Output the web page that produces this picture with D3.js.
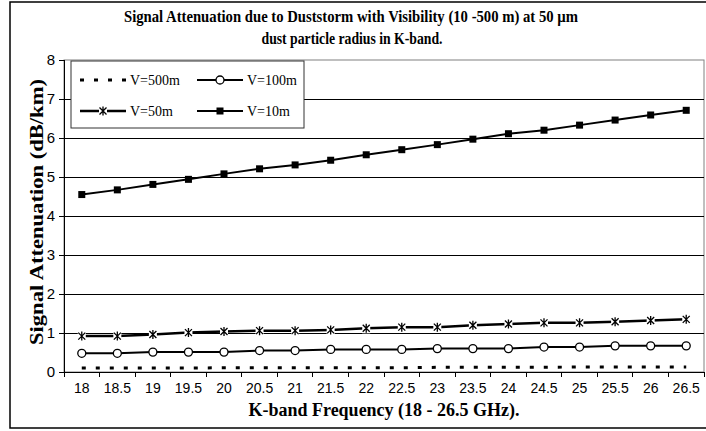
<!DOCTYPE html>
<html>
<head>
<meta charset="utf-8">
<script src="https://d3js.org/d3.v7.min.js"></script>
<style>
  body { margin: 0; background: #fff; }
  svg { display: block; }
</style>
</head>
<body>
<svg width="706" height="431"></svg>
<script>
  var freqs = ["18", "18.5", "19", "19.5", "20", "20.5", "21", "21.5", "22", "22.5", "23", "23.5", "24", "24.5", "25", "25.5", "26", "26.5"];
  var v500 = [0.10, 0.10, 0.10, 0.10, 0.11, 0.11, 0.11, 0.11, 0.11, 0.11, 0.12, 0.12, 0.12, 0.12, 0.13, 0.13, 0.13, 0.13];
  var v100 = [0.48, 0.48, 0.51, 0.51, 0.51, 0.55, 0.55, 0.58, 0.58, 0.58, 0.60, 0.60, 0.60, 0.64, 0.64, 0.67, 0.67, 0.67];
  var v50 = [0.92, 0.92, 0.96, 1.01, 1.04, 1.06, 1.06, 1.08, 1.12, 1.15, 1.15, 1.20, 1.23, 1.26, 1.26, 1.29, 1.32, 1.35];
  var v10 = [4.55, 4.67, 4.81, 4.94, 5.08, 5.21, 5.31, 5.43, 5.57, 5.70, 5.83, 5.97, 6.11, 6.20, 6.33, 6.46, 6.59, 6.71];
  var yTicks = [0, 1, 2, 3, 4, 5, 6, 7, 8];

  var svg = d3.select("svg");
  var plotL = 64, plotR = 704, plotT = 60, plotB = 372;

  // outer frame (right edge is cut off in the original)
  svg.append("rect")
    .attr("x", 10).attr("y", 2)
    .attr("width", 720).attr("height", 426)
    .style("fill", "none").style("stroke", "#000").style("stroke-width", 1.5);

  var x = d3.scaleBand().domain(freqs).range([plotL, plotR]);
  var y = d3.scaleLinear().domain([0, 8]).range([plotB, plotT]);
  var cx = function (d, i) { return x(freqs[i]) + x.bandwidth() / 2; };

  // plot border + grid
  svg.append("rect")
    .attr("x", plotL).attr("y", plotT)
    .attr("width", plotR - plotL).attr("height", plotB - plotT)
    .style("fill", "none").style("stroke", "#808080").style("stroke-width", 1);

  svg.append("g").selectAll("line")
    .data(yTicks.slice(1, -1))
    .enter().append("line")
    .attr("x1", plotL).attr("x2", plotR)
    .attr("y1", function (d) { return y(d); }).attr("y2", function (d) { return y(d); })
    .style("stroke", "#000").style("stroke-width", 1)
    .attr("shape-rendering", "crispEdges");

  // y axis
  var yAxis = svg.append("g").attr("transform", "translate(" + plotL + ",0)")
    .call(d3.axisLeft(y).tickValues(yTicks).tickSize(5).tickPadding(4).tickFormat(d3.format("d")));
  yAxis.selectAll("text").style("font-family", "Liberation Sans, Arial, sans-serif").style("font-size", "15px").style("fill", "#000");
  yAxis.selectAll("line").style("stroke", "#000");
  yAxis.select(".domain").remove();
  svg.append("line").attr("x1", plotL).attr("x2", plotL).attr("y1", plotT).attr("y2", plotB)
    .style("stroke", "#000").style("stroke-width", 1).attr("shape-rendering", "crispEdges");

  // x axis: labels at band centres, ticks at band edges
  var xAxis = svg.append("g").attr("transform", "translate(0," + plotB + ")")
    .call(d3.axisBottom(x).tickSize(0).tickPadding(11));
  xAxis.select(".domain").remove();
  xAxis.selectAll("text").style("font-family", "Liberation Sans, Arial, sans-serif").style("font-size", "14px").style("fill", "#000");
  var edges = freqs.map(function (f) { return x(f); }).concat([plotR]);
  svg.append("g").selectAll("line")
    .data(edges)
    .enter().append("line")
    .attr("x1", function (d) { return d; }).attr("x2", function (d) { return d; })
    .attr("y1", plotB).attr("y2", plotB + 5)
    .style("stroke", "#000").attr("shape-rendering", "crispEdges");
  svg.append("line").attr("x1", plotL).attr("x2", plotR).attr("y1", plotB).attr("y2", plotB)
    .style("stroke", "#000").style("stroke-width", 1).attr("shape-rendering", "crispEdges");

  // series
  var line = d3.line().x(cx).y(function (d) { return y(d); });
  var starPath = "M-3.5,-3.5L3.5,3.5M3.5,-3.5L-3.5,3.5M0,-4.5L0,4.5";

  var series = [
    { name: "V=500m", values: v500 },
    { name: "V=100m", values: v100 },
    { name: "V=50m", values: v50 },
    { name: "V=10m", values: v10 }
  ];
  var style = {
    "V=500m": { width: 3, dash: "4,10", marker: "none" },
    "V=100m": { width: 2, dash: null, marker: "circle" },
    "V=50m": { width: 2.5, dash: null, marker: "star" },
    "V=10m": { width: 2, dash: null, marker: "square" }
  };

  function drawMarker(sel, kind) {
    if (kind === "circle") {
      sel.append("circle").attr("r", 4).style("fill", "#fff").style("stroke", "#000").style("stroke-width", 1.3);
    } else if (kind === "square") {
      sel.append("rect").attr("x", -3.5).attr("y", -3.5).attr("width", 7).attr("height", 7).style("fill", "#000");
    } else if (kind === "star") {
      sel.append("rect").attr("x", -4).attr("y", -5).attr("width", 8).attr("height", 10).style("fill", "#fff");
      sel.append("path").attr("d", starPath).style("fill", "none").style("stroke", "#000").style("stroke-width", 1.3);
    }
  }

  series.forEach(function (s) {
    var st = style[s.name];
    svg.append("path")
      .datum(s.values)
      .attr("d", line)
      .style("fill", "none")
      .style("stroke", "#000")
      .style("stroke-width", st.width)
      .style("stroke-dasharray", st.dash);
    if (st.marker !== "none") {
      svg.append("g").selectAll("g")
        .data(s.values)
        .enter().append("g")
        .attr("transform", function (d, i) { return "translate(" + cx(d, i) + "," + y(d) + ")"; })
        .each(function () { drawMarker(d3.select(this), st.marker); });
    }
  });

  // legend
  var legend = svg.append("g");
  legend.append("rect")
    .attr("x", 71).attr("y", 61).attr("width", 233).attr("height", 67)
    .style("fill", "#fff").style("stroke", "#333").style("stroke-width", 1);
  var legPos = [[80, 80], [197, 80], [80, 111], [197, 111]];
  series.forEach(function (s, i) {
    var st = style[s.name];
    var g = legend.append("g").attr("transform", "translate(" + legPos[i][0] + "," + legPos[i][1] + ")");
    g.append("line").attr("x1", 0).attr("x2", 46).attr("y1", 0).attr("y2", 0)
      .style("stroke", "#000").style("stroke-width", st.width).style("stroke-dasharray", st.dash);
    if (st.marker !== "none") {
      drawMarker(g.append("g").attr("transform", "translate(23,0)"), st.marker);
    }
    g.append("text").attr("x", 50).attr("y", 5)
      .style("font-family", "Liberation Serif, Times New Roman, serif").style("font-size", "14px")
      .text(s.name);
  });

  // titles
  var serif = "Liberation Serif, Times New Roman, serif";
  svg.append("text").attr("x", 351).attr("y", 22).attr("text-anchor", "middle")
    .attr("textLength", 454).attr("lengthAdjust", "spacingAndGlyphs")
    .style("font-family", serif).style("font-weight", "bold").style("font-size", "16px")
    .text("Signal Attenuation due to Duststorm with Visibility (10 -500 m) at 50 \u00b5m");
  svg.append("text").attr("x", 352).attr("y", 44).attr("text-anchor", "middle")
    .attr("textLength", 181).attr("lengthAdjust", "spacingAndGlyphs")
    .style("font-family", serif).style("font-weight", "bold").style("font-size", "16px")
    .text("dust particle radius in K-band.");

  svg.append("text").attr("x", 384).attr("y", 416).attr("text-anchor", "middle")
    .attr("textLength", 271).attr("lengthAdjust", "spacingAndGlyphs")
    .style("font-family", serif).style("font-weight", "bold").style("font-size", "18px")
    .text("K-band Frequency (18 - 26.5 GHz).");

  svg.append("text")
    .attr("transform", "translate(43,212)rotate(-90)")
    .attr("text-anchor", "middle")
    .attr("textLength", 266).attr("lengthAdjust", "spacingAndGlyphs")
    .style("font-family", serif).style("font-weight", "bold").style("font-size", "19px")
    .text("Signal Attenuation (dB/km)");
</script>
</body>
</html>
